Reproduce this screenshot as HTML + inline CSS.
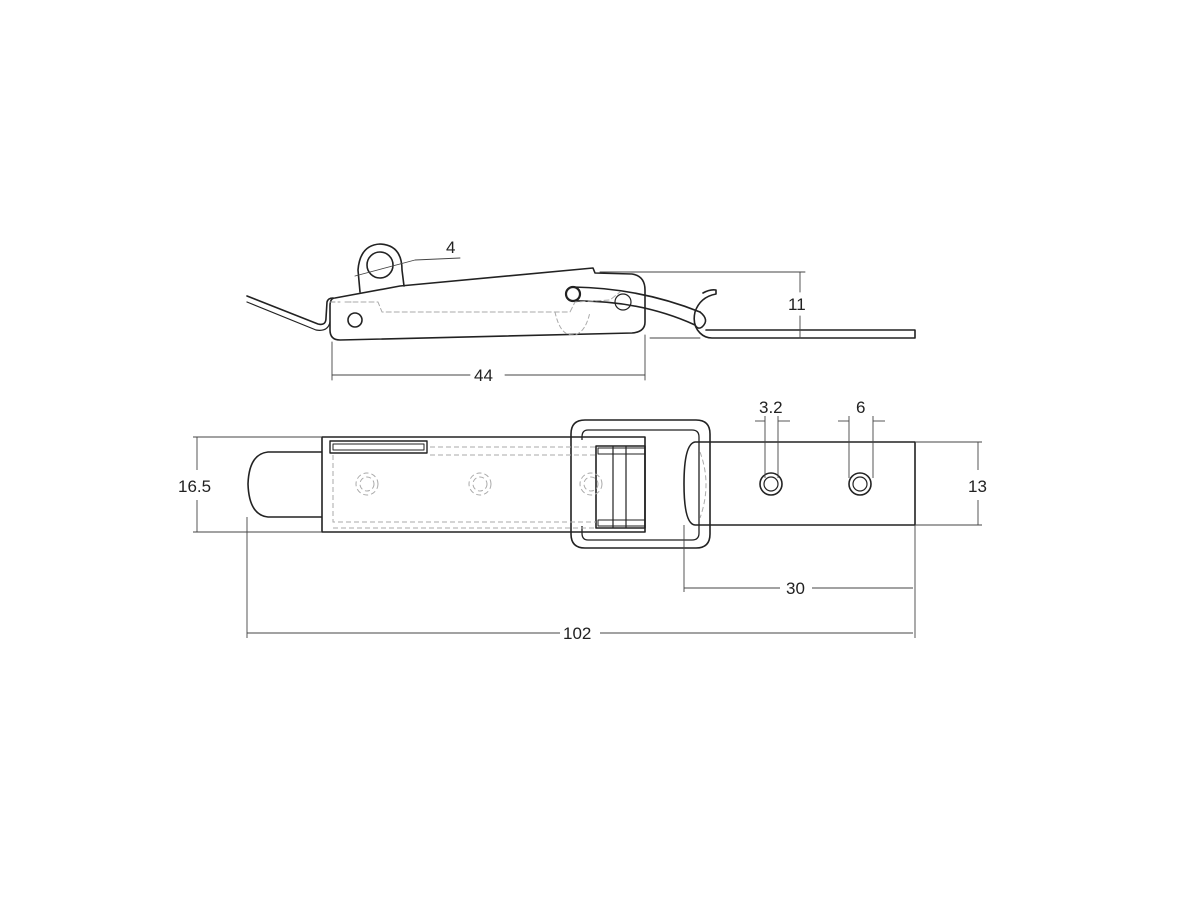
<!DOCTYPE html>
<html><head><style>
html,body{margin:0;padding:0;background:#fff;}
svg{display:block;}
text{font-family:"Liberation Sans",sans-serif;font-size:17px;fill:#222;}
</style></head><body>
<svg width="1200" height="900" viewBox="0 0 1200 900" xmlns="http://www.w3.org/2000/svg">
<g fill="none" stroke="#222" stroke-width="1.6" stroke-linejoin="round" stroke-linecap="round">
<!-- SIDE VIEW -->
<!-- loop -->
<path d="M360,292 L358,270 Q360,245 380,244 Q402,245 402,270 L404,286"/>
<circle cx="380" cy="265" r="13"/>
<!-- body -->
<path d="M335,298 L400,286 L593,268 L595,273 L632,274 Q645,276 645,290 L645,322 Q645,332 632,333 L340,340 Q330,340 330,330 L330,306 Q330,298 335,298 Z"/>
<circle cx="355" cy="320" r="7"/>
<!-- left wire spring -->
<path d="M247,296 L318,324 Q326,326 326,318 L327,302 Q328,298 333,298" />
<path d="M247,302 L316,330 Q328,332 330,322" stroke-width="1.2"/>
<!-- pin and wire -->
<circle cx="573" cy="294" r="7" stroke-width="2.2"/>
<path d="M573,287 Q640,288 700,312"/>
<path d="M573,301 Q640,300 695,325"/>
<path d="M700,312 Q710,320 702,327 Q698,330 695,325"/>
<path d="M703,293 Q710,289 716,290 L716,294 Q700,297 695,312 Q692,325 700,333 Q705,338 712,338 L915,338 L915,330 L706,330"/>
<circle cx="623" cy="302" r="8" stroke-width="1.2"/>
<path d="M330,302 L340,302 M346,302 L352,302" stroke="#999" stroke-width="1" stroke-dasharray="5,3"/>
<path d="M345,302 L378,302 L382,312 L570,312 L575,302 L610,300 L620,292" stroke="#aaa" stroke-width="1" stroke-dasharray="5,3"/>
<path d="M555,312 Q560,335 572,335 Q585,335 590,312" stroke="#aaa" stroke-width="1" stroke-dasharray="4,3"/>
<!-- dims side -->
<g stroke="#444" stroke-width="0.9">
<line x1="332" y1="342" x2="332" y2="380"/>
<line x1="645" y1="335" x2="645" y2="380"/>
<line x1="332" y1="375" x2="470" y2="375"/>
<line x1="505" y1="375" x2="645" y2="375"/>
<line x1="600" y1="272" x2="805" y2="272"/>
<line x1="800" y1="272" x2="800" y2="292"/>
<line x1="800" y1="316" x2="800" y2="338"/>
<line x1="650" y1="338" x2="700" y2="338"/>
<path d="M355,276 L415,260 L460,258"/>
</g>
</g>
<text x="446" y="253">4</text>
<text x="474" y="381">44</text>
<text x="788" y="310">11</text>

<!-- BOTTOM VIEW -->
<g fill="none" stroke="#222" stroke-width="1.6" stroke-linejoin="round">
<path d="M322,452 L268,452 Q249,454 248,484 Q249,515 268,517 L322,517"/>
<rect x="322" y="437" width="323" height="95"/>
<rect x="330" y="441" width="97" height="12" stroke-width="1.4"/>
<rect x="333" y="444" width="91" height="6" stroke-width="1"/>
<path d="M585,420 L696,420 Q710,420 710,434 L710,534 Q710,548 696,548 L585,548 Q571,548 571,534 L571,434 Q571,420 585,420 Z"/>
<path d="M588,430 L692,430 Q699,430 699,437 L699,533 Q699,540 692,540 L588,540 Q582,540 582,533 L582,526" stroke-width="1.3"/>
<path d="M582,440 L582,437 Q582,430 588,430" stroke-width="1.3"/>
<rect x="596" y="446" width="49" height="82"/>
<line x1="613" y1="446" x2="613" y2="528" stroke-width="1.2"/>
<line x1="626" y1="446" x2="626" y2="528" stroke-width="1.2"/>
<rect x="598" y="448" width="47" height="6" stroke-width="1"/>
<rect x="598" y="520" width="47" height="6" stroke-width="1"/>
<path d="M915,442 L695,442 Q684,444 684,484 Q684,524 695,525 L915,525 Z"/>
<circle cx="771" cy="484" r="11"/>
<circle cx="771" cy="484" r="7" stroke-width="1.2"/>
<circle cx="860" cy="484" r="11"/>
<circle cx="860" cy="484" r="7" stroke-width="1.2"/>
</g>
<g fill="none" stroke="#aaa" stroke-width="1" stroke-dasharray="5,3">
<path d="M430,447 L596,447 M430,455 L596,455"/>
<path d="M333,455 L333,522 L596,522 M333,528 L596,528"/>
<circle cx="367" cy="484" r="11"/><circle cx="367" cy="484" r="7"/>
<circle cx="480" cy="484" r="11"/><circle cx="480" cy="484" r="7"/>
<circle cx="591" cy="484" r="11"/><circle cx="591" cy="484" r="7"/>
<path d="M700,452 Q712,484 700,518"/>
</g>
<!-- dims bottom -->
<g fill="none" stroke="#444" stroke-width="0.9">
<line x1="193" y1="437" x2="322" y2="437"/>
<line x1="193" y1="532" x2="322" y2="532"/>
<line x1="197" y1="437" x2="197" y2="470"/>
<line x1="197" y1="500" x2="197" y2="532"/>
<line x1="915" y1="442" x2="982" y2="442"/>
<line x1="915" y1="525" x2="982" y2="525"/>
<line x1="978" y1="442" x2="978" y2="470"/>
<line x1="978" y1="500" x2="978" y2="525"/>
<line x1="684" y1="525" x2="684" y2="592"/>
<line x1="915" y1="525" x2="915" y2="638"/>
<line x1="247" y1="517" x2="247" y2="638"/>
<line x1="684" y1="588" x2="780" y2="588"/>
<line x1="812" y1="588" x2="913" y2="588"/>
<line x1="247" y1="633" x2="560" y2="633"/>
<line x1="600" y1="633" x2="913" y2="633"/>
<line x1="765" y1="416" x2="765" y2="478"/>
<line x1="778" y1="416" x2="778" y2="478"/>
<line x1="755" y1="421" x2="765" y2="421"/>
<line x1="778" y1="421" x2="790" y2="421"/>
<line x1="849" y1="416" x2="849" y2="478"/>
<line x1="873" y1="416" x2="873" y2="478"/>
<line x1="838" y1="421" x2="849" y2="421"/>
<line x1="873" y1="421" x2="885" y2="421"/>
</g>
<text x="178" y="492">16.5</text>
<text x="968" y="492">13</text>
<text x="786" y="594">30</text>
<text x="563" y="639">102</text>
<text x="759" y="413">3.2</text>
<text x="856" y="413">6</text>
</svg>
</body></html>
